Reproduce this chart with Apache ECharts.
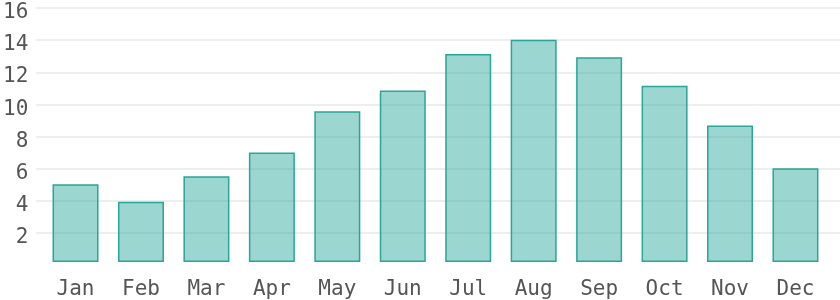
<!DOCTYPE html>
<html><head><meta charset="utf-8">
<script src="https://cdn.jsdelivr.net/npm/echarts@6/dist/echarts.min.js"></script>
<style>html,body{margin:0;padding:0;background:#fff}#c{width:840px;height:300px}</style>
</head><body><div id="c"></div>
<script>
const categories = ['Jan','Feb','Mar','Apr','May','Jun','Jul','Aug','Sep','Oct','Nov','Dec'];
const values = [4.9, 3.8, 5.4, 6.9, 9.5, 10.8, 13.1, 14.0, 12.9, 11.1, 8.6, 5.9];
const yMin = 0, yMax = 16, yStep = 2;

const font = '"DejaVu Sans Mono", monospace';
const gridColors = ['rgba(0,0,0,0)','#e9e9e9','#e9e9e9','#e9e9e9','#e9e9e9','#e9e9e9','#e9e9e9','#e9e9e9','#e9e9e9'];
const chart = echarts.init(document.getElementById('c'), null, {renderer:'canvas'});
chart.setOption({
  animation:false,
  grid:[
    {left:32, right:0, top:8, bottom:35},
    {left:42.8, right:11.8, top:8, bottom:35}
  ],
  xAxis:[
    {gridIndex:0, type:'value', show:false, min:0, max:1},
    {gridIndex:1, type:'category', data:categories,
     axisLine:{show:false}, axisTick:{show:false},
     axisLabel:{color:'#555', fontFamily:font, fontSize:21, margin:17}}
  ],
  yAxis:[
    {gridIndex:0, type:'value', min:yMin, max:yMax, interval:yStep,
     axisLine:{show:false}, axisTick:{show:false},
     axisLabel:{color:'#555', fontFamily:font, fontSize:21, margin:8,
       verticalAlign:'top', lineHeight:9.5,
       formatter:v=> v===0 ? '' : String(v)},
     splitLine:{lineStyle:{color:gridColors, width:1.5}}},
    {gridIndex:1, type:'value', min:yMin, max:yMax, interval:yStep, show:false,
     splitLine:{show:false}}
  ],
  series:[{
    type:'bar', xAxisIndex:1, yAxisIndex:1, data:values, barWidth:46,
    itemStyle:{color:'rgba(38,166,154,0.46)', borderColor:'#2aa596', borderWidth:1.5}
  }]
});
</script></body></html>
